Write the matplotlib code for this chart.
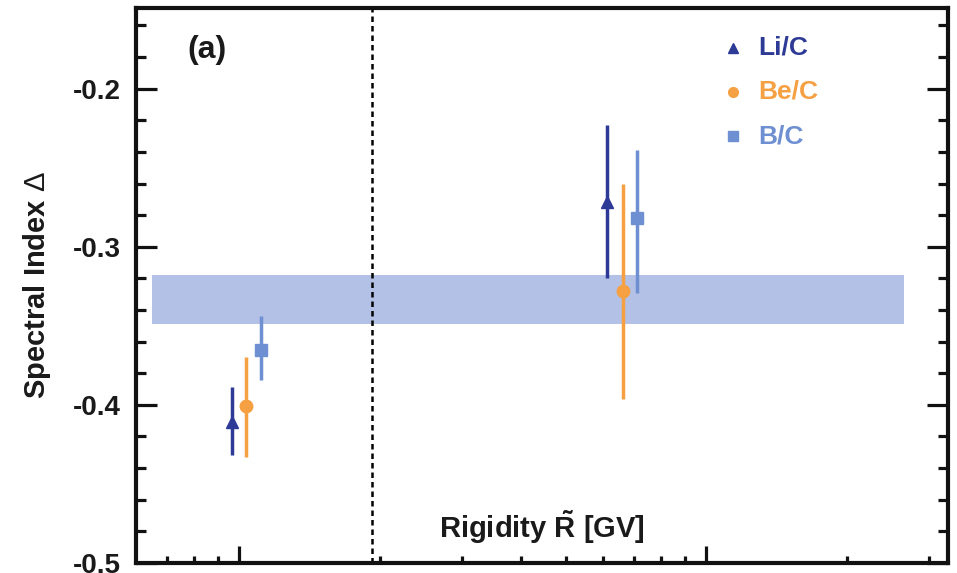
import numpy as np
import matplotlib.pyplot as plt
from matplotlib.ticker import FixedLocator, MultipleLocator, NullFormatter

plt.rcParams['font.family'] = ['Liberation Sans', 'DejaVu Sans']
plt.rcParams['mathtext.fontset'] = 'custom'
plt.rcParams['mathtext.rm'] = 'Liberation Sans'
plt.rcParams['mathtext.bf'] = 'Liberation Sans:bold'

# spectral index change, two rigidity ranges (points shifted a bit in R for display)
labels = ['Li/C', 'Be/C', 'B/C']
colors = ['#2d3b96', '#f5a043', '#6e8fd2']
markers = ['^', 'o', 's']
rig_low = [96.5, 103.5, 111.0]
rig_high = [614, 662, 712]
delta_low = [-0.411, -0.401, -0.365]
delta_low_up = [-0.389, -0.370, -0.344]
delta_low_dn = [-0.432, -0.433, -0.384]
delta_high = [-0.272, -0.328, -0.282]
delta_high_up = [-0.223, -0.260, -0.239]
delta_high_dn = [-0.320, -0.396, -0.329]

# reference band
band_r = [65, 2650]
band_lo, band_hi = -0.349, -0.318
r_break = 192

txt = '#1a1a1a'

fig = plt.figure(figsize=(9.57, 5.73), dpi=100)
ax = fig.add_axes([0.142, 0.0175, 0.849, 0.9685])

ax.set_xscale('log')
ax.set_xlim(60, 3300)
ax.set_ylim(-0.5, -0.149)

ax.fill_between(band_r, band_lo, band_hi, color='#b3c1e6', lw=0, zorder=1)
ax.axvline(r_break, color='black', ls=(0, (2.2, 1.6)), lw=1.8, zorder=2)

for i in range(3):
    for r, d, up, dn in [(rig_low, delta_low, delta_low_up, delta_low_dn),
                         (rig_high, delta_high, delta_high_up, delta_high_dn)]:
        ax.errorbar(r[i], d[i], yerr=[[d[i] - dn[i]], [up[i] - d[i]]],
                    fmt=markers[i], color=colors[i], ms=9, elinewidth=2.5,
                    capsize=0, zorder=3)

# legend entries
leg_y = [-0.174, -0.202, -0.230]
for i in range(3):
    ax.plot([1140], [leg_y[i]], marker=markers[i], color=colors[i], ms=7, ls='none')
    ax.text(1290, leg_y[i], labels[i], color=colors[i], fontsize=19,
            fontweight='bold', va='center', ha='left')

ax.text(0.063, 0.925, '(a)', transform=ax.transAxes, fontsize=23,
        fontweight='bold', va='center', ha='left', color=txt)
ax.text(0.5, 0.065, r'Rigidity $\mathbf{\tilde{R}}$ [GV]', transform=ax.transAxes,
        fontsize=21, fontweight='bold', va='center', ha='center', color=txt)
ax.set_ylabel(r'Spectral Index $\Delta$', fontsize=21, fontweight='bold',
              color=txt, labelpad=14)

for s in ax.spines.values():
    s.set_linewidth(3)
    s.set_color('#111111')

ax.yaxis.set_major_locator(MultipleLocator(0.1))
ax.yaxis.set_minor_locator(MultipleLocator(0.02))
ax.xaxis.set_major_locator(FixedLocator([100, 1000]))
ax.xaxis.set_minor_locator(FixedLocator([70, 80, 90, 200, 300, 400, 500, 600, 700, 800, 900, 2000, 3000]))
ax.xaxis.set_major_formatter(NullFormatter())
ax.xaxis.set_minor_formatter(NullFormatter())
ax.yaxis.set_major_formatter(plt.FuncFormatter(lambda v, p: f'{v:.1f}'))

ax.tick_params(axis='both', which='both', direction='in', color='#111111', width=2.3)
ax.tick_params(axis='y', which='both', left=True, right=True)
ax.tick_params(axis='x', which='both', bottom=True, top=False)
ax.tick_params(axis='y', which='major', length=15)
ax.tick_params(axis='y', which='minor', length=7.5)
ax.tick_params(axis='x', which='major', length=12)
ax.tick_params(axis='x', which='minor', length=5)
ax.tick_params(axis='y', labelsize=20, pad=11, labelcolor=txt)
for lab in ax.get_yticklabels():
    lab.set_fontweight('bold')

fig.savefig('out.png', dpi=100)
